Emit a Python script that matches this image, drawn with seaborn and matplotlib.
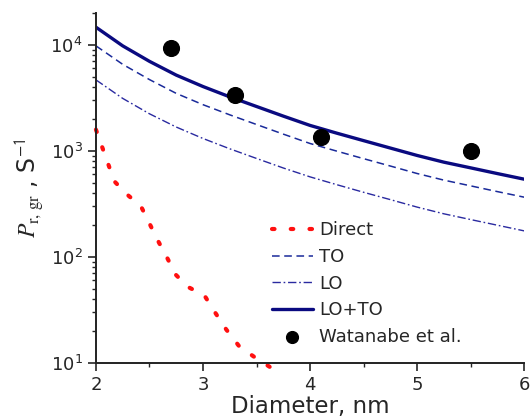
import matplotlib
matplotlib.use("Agg")
import matplotlib.pyplot as plt
from matplotlib.ticker import MultipleLocator, LogLocator, NullFormatter
import seaborn as sns

# curves
diam = [2.0, 2.25, 2.5, 2.75, 3.0, 3.25, 3.5, 3.75, 4.0,
        4.25, 4.5, 4.75, 5.0, 5.25, 5.5, 5.75, 6.0]
lo_to = [14700, 9800, 7000, 5190, 4050, 3235, 2625, 2130, 1740,
         1470, 1250, 1064, 906, 783, 692, 611, 541]
to = [9800, 6560, 4710, 3490, 2730, 2190, 1775, 1440, 1175,
      995, 845, 720, 612, 530, 468, 413, 366]
lo = [4680, 3130, 2240, 1680, 1310, 1047, 849, 690, 569,
      480, 407, 347, 295, 255, 225, 199, 176]

direct_d = [2.0, 2.115, 2.171, 2.287, 2.42, 2.498, 2.573, 2.661, 2.745,
            2.86, 3.012, 3.112, 3.218, 3.339, 3.489, 3.636]
direct = [1590, 750, 518, 391, 301, 209, 146, 100, 68,
          52, 43.5, 30, 20.6, 14.3, 11.2, 9.0]

exp_d = [2.7, 3.3, 4.1, 5.5]
exp_p = [9400, 3350, 1340, 1000]

sns.set_style("ticks")
plt.rcParams["mathtext.fontset"] = "stix"
plt.rcParams["font.family"] = ["DejaVu Sans"]

fig = plt.figure(figsize=(5.3, 4.2), dpi=100)
ax = fig.add_axes([0.181, 0.136, 0.808, 0.833])

sns.lineplot(x=direct_d, y=direct, ax=ax, color="#ff1010", lw=3.0,
             linestyle=(0, (0.6, 3.9)), dash_capstyle="round", label="Direct")
ax.lines[-1].set_clip_on(False)
sns.lineplot(x=diam, y=to, ax=ax, color="#1a2a9a", lw=1.1,
             linestyle=(0, (5, 3)), label="TO")
sns.lineplot(x=diam, y=lo, ax=ax, color="#2a2aa0", lw=1.0,
             linestyle=(0, (6, 2, 1.2, 2)), label="LO")
sns.lineplot(x=diam, y=lo_to, ax=ax, color="#0a0a80", lw=2.4, label="LO+TO")
sns.scatterplot(x=exp_d, y=exp_p, ax=ax, color="black", s=130,
                edgecolor="black", zorder=5, label="Watanabe et al.")

ax.set_yscale("log")
ax.set_xlim(2, 6)
ax.set_ylim(10, 20000)
ax.xaxis.set_major_locator(MultipleLocator(1))
ax.xaxis.set_minor_locator(MultipleLocator(0.5))
ax.yaxis.set_minor_locator(LogLocator(base=10, subs=range(2, 10)))
ax.yaxis.set_minor_formatter(NullFormatter())
ax.tick_params(which="major", length=6, width=1.2, labelsize=13)
ax.tick_params(which="minor", length=3, width=1.0)
for s in ["left", "bottom"]:
    ax.spines[s].set_linewidth(1.4)
    ax.spines[s].set_color("#222222")
sns.despine(ax=ax)

ax.set_xlabel("Diameter, nm", fontsize=16.5, labelpad=1)
ax.set_ylabel(r"$P_{\mathrm{r,\,gr}}$ , S$^{\mathsf{-1}}$", fontsize=17, labelpad=3)

ax.legend(loc="upper left", bbox_to_anchor=(0.41, 0.405), frameon=False,
          fontsize=13, handlelength=2.3, handletextpad=0.35, labelspacing=0.48,
          borderaxespad=0, borderpad=0, markerscale=0.75)

fig.savefig("out.png", dpi=100)
